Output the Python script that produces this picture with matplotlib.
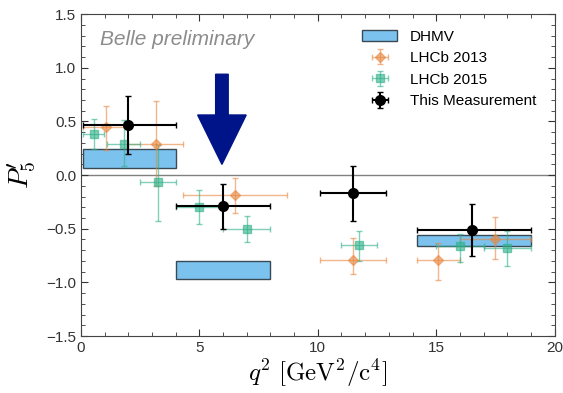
import matplotlib
matplotlib.use("Agg")
import matplotlib.pyplot as plt
from matplotlib.patches import Rectangle
from matplotlib.ticker import MultipleLocator

plt.rcParams["font.family"] = ["Liberation Sans", "DejaVu Sans"]
plt.rcParams["mathtext.fontset"] = "cm"

# DHMV theory boxes: (q2 low, q2 high, P5' low, P5' high)
dhmv_lo = [0.1, 4.0, 14.18]
dhmv_hi = [4.0, 8.0, 19.0]
dhmv_ylo = [0.065, -0.97, -0.665]
dhmv_yhi = [0.245, -0.80, -0.555]

# LHCb 2013
l13_x = [1.05, 3.15, 6.49, 11.475, 15.09, 17.5]
l13_xlo = [0.1, 2.0, 4.3, 10.09, 14.18, 16.0]
l13_xhi = [2.0, 4.3, 8.68, 12.86, 16.0, 19.0]
l13_y = [0.45, 0.29, -0.19, -0.79, -0.79, -0.60]
l13_up = [0.19, 0.40, 0.16, 0.20, 0.16, 0.21]
l13_dn = [0.22, 0.39, 0.16, 0.13, 0.19, 0.18]

# LHCb 2015
l15_x = [0.54, 1.8, 3.25, 5.0, 7.0, 11.75, 16.0, 18.0]
l15_xlo = [0.1, 1.1, 2.5, 4.0, 6.0, 11.0, 15.0, 17.0]
l15_xhi = [0.98, 2.5, 4.0, 6.0, 8.0, 12.5, 17.0, 19.0]
l15_y = [0.387, 0.289, -0.066, -0.300, -0.505, -0.655, -0.662, -0.676]
l15_up = [0.132, 0.220, 0.343, 0.160, 0.124, 0.131, 0.109, 0.157]
l15_dn = [0.142, 0.202, 0.364, 0.159, 0.122, 0.149, 0.148, 0.171]

# This measurement (Belle)
me_x = [2.0, 6.0, 11.5, 16.5]
me_xlo = [0.1, 4.0, 10.09, 14.18]
me_xhi = [4.0, 8.0, 12.9, 19.0]
me_y = [0.47, -0.29, -0.17, -0.51]
me_up = [0.27, 0.21, 0.25, 0.24]
me_dn = [0.27, 0.21, 0.26, 0.24]


def xerrs(x, lo, hi):
    return [[a - b for a, b in zip(x, lo)], [b - a for a, b in zip(x, hi)]]


fig = plt.figure(figsize=(5.63, 3.93), dpi=100)
ax = fig.add_axes([0.144, 0.145, 0.841, 0.819])

ax.axhline(0, color="grey", lw=1, zorder=1)

for i, (lo, hi, ylo, yhi) in enumerate(zip(dhmv_lo, dhmv_hi, dhmv_ylo, dhmv_yhi)):
    ax.add_patch(Rectangle((lo, ylo), hi - lo, yhi - ylo, facecolor="#7cc2ee",
                           edgecolor="#3a4a55", lw=1, zorder=2,
                           label="DHMV" if i == 0 else None))

ax.errorbar(l13_x, l13_y, xerr=xerrs(l13_x, l13_xlo, l13_xhi), yerr=[l13_dn, l13_up],
            fmt="D", color="#e8873f", ms=5, alpha=0.6, capsize=2, lw=1, zorder=3,
            label="LHCb 2013")
ax.errorbar(l15_x, l15_y, xerr=xerrs(l15_x, l15_xlo, l15_xhi), yerr=[l15_dn, l15_up],
            fmt="s", color="#2eb088", ms=6, alpha=0.6, capsize=2, lw=1, zorder=3,
            label="LHCb 2015")
ax.errorbar(me_x, me_y, xerr=xerrs(me_x, me_xlo, me_xhi), yerr=[me_dn, me_up],
            fmt="o", color="black", ms=7, capsize=2.5, lw=1.5, zorder=4,
            label="This Measurement")

ax.arrow(5.95, 0.94, 0, -0.84, width=0.53, head_width=2.05, head_length=0.46,
         length_includes_head=True, color="#001489", zorder=5)

ax.text(0.8, 1.26, "Belle preliminary", color="#8c8c8c", style="italic",
        fontsize=15, va="center")

ax.set_xlim(0, 20)
ax.set_ylim(-1.5, 1.5)
ax.xaxis.set_major_locator(MultipleLocator(5))
ax.xaxis.set_minor_locator(MultipleLocator(1))
ax.yaxis.set_major_locator(MultipleLocator(0.5))
ax.yaxis.set_minor_locator(MultipleLocator(0.1))
ax.tick_params(which="both", direction="in", top=True, right=True, labelsize=11,
               colors="#333333", labelcolor="#333333")
ax.tick_params(which="major", length=5)
ax.tick_params(which="minor", length=3)
for s in ax.spines.values():
    s.set_color("#444444")

ax.set_xlabel(r"$q^2\ [\mathrm{GeV}^2/\mathrm{c}^4]$", fontsize=18, labelpad=2)
ax.set_ylabel(r"$P_5'$", fontsize=20, labelpad=6)

ax.legend(loc="upper right", bbox_to_anchor=(0.99, 0.995), frameon=False,
          fontsize=11, handlelength=2.3)

fig.savefig("out.png", dpi=100)
